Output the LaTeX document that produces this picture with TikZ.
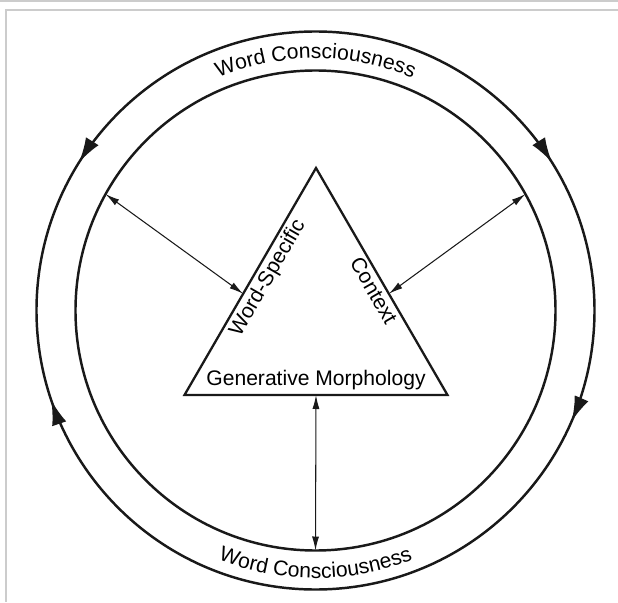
\documentclass[tikz,border=0pt]{standalone}
\usepackage{fontspec}
\setmainfont{Liberation Sans}
\usetikzlibrary{arrows.meta, calc, decorations.markings, decorations.text}

\newcommand{\ringfont}{\fontsize{12}{14}\selectfont}

\begin{document}
\begin{tikzpicture}[
  ring/.style={line width=1.4pt, draw=black!90},
  tri/.style={line width=1.3pt, draw=black!90},
  link/.style={{Latex[length=2.8mm,width=1.4mm]}-{Latex[length=2.8mm,width=1.4mm]},
               line width=0.6pt, draw=black!90},
  lbl/.style={font=\ringfont, inner sep=2pt},
  frame/.style={draw=black!20, line width=1.1pt},
  cyc/.tip={Latex[length=5mm,width=3mm]}
]

\useasboundingbox (-6.31,-5.83) rectangle (6.05,6.21);

% ── Frame ──
\draw[frame] (-6.31,6.19) -- (6.05,6.19);
\draw[frame] (-6.21,6.01) -- (6.05,6.01);
\draw[frame] (-6.19,6.01) -- (-6.19,-5.83);

% ── Two rings ──
\coordinate (c) at (0,0);
\draw[ring, postaction={decorate}, decoration={markings,
    mark=at position 0.089 with {\arrowreversed{cyc}},
    mark=at position 0.411 with {\arrow{cyc}},
    mark=at position 0.552 with {\arrowreversed{cyc}},
    mark=at position 0.935 with {\arrowreversed{cyc}}}]
  (c) circle (5.58);
\draw[ring] (c) circle (4.8);

% ── Ring labels ──
\path[decorate, decoration={text along path, text align=center,
    text={|\ringfont|Word Consciousness}}]
  (150:5.04) arc[start angle=150, end angle=30, radius=5.04];
\path[decorate, decoration={text along path, text align=center,
    text={|\ringfont|Word Consciousness}}]
  (210:5.35) arc[start angle=210, end angle=330, radius=5.35];

% ── Triangle ──
\coordinate (bl) at (-2.62,-1.69);
\coordinate (br) at (2.64,-1.69);
\coordinate (top) at (0.01,2.85);
\draw[tri] (bl) -- (br) -- (top) -- cycle;

\node[lbl, rotate=60, anchor=north] (ws) at ($(bl)!0.545!(top)$) {Word-Specific};
\node[lbl, rotate=-60, anchor=north] (ctx) at ($(br)!0.485!(top)$) {Context};
\node[lbl, anchor=south, inner sep=3pt] (gm) at ($(bl)!0.5!(br)$) {Generative Morphology};

% ── Links to the inner ring ──
\coordinate (wsA) at ($(bl)!0.446!(top)$);
\coordinate (ctxA) at ($(br)!0.446!(top)$);
\coordinate (gmA) at ($(bl)!0.5!(br)$);
\coordinate (inL) at (151:4.8);
\coordinate (inR) at (29:4.8);
\coordinate (inB) at (270:4.8);

\draw[link] (wsA) -- (inL);
\draw[link] (ctxA) -- (inR);
\draw[link] (gmA) -- (inB);

\end{tikzpicture}
\end{document}
